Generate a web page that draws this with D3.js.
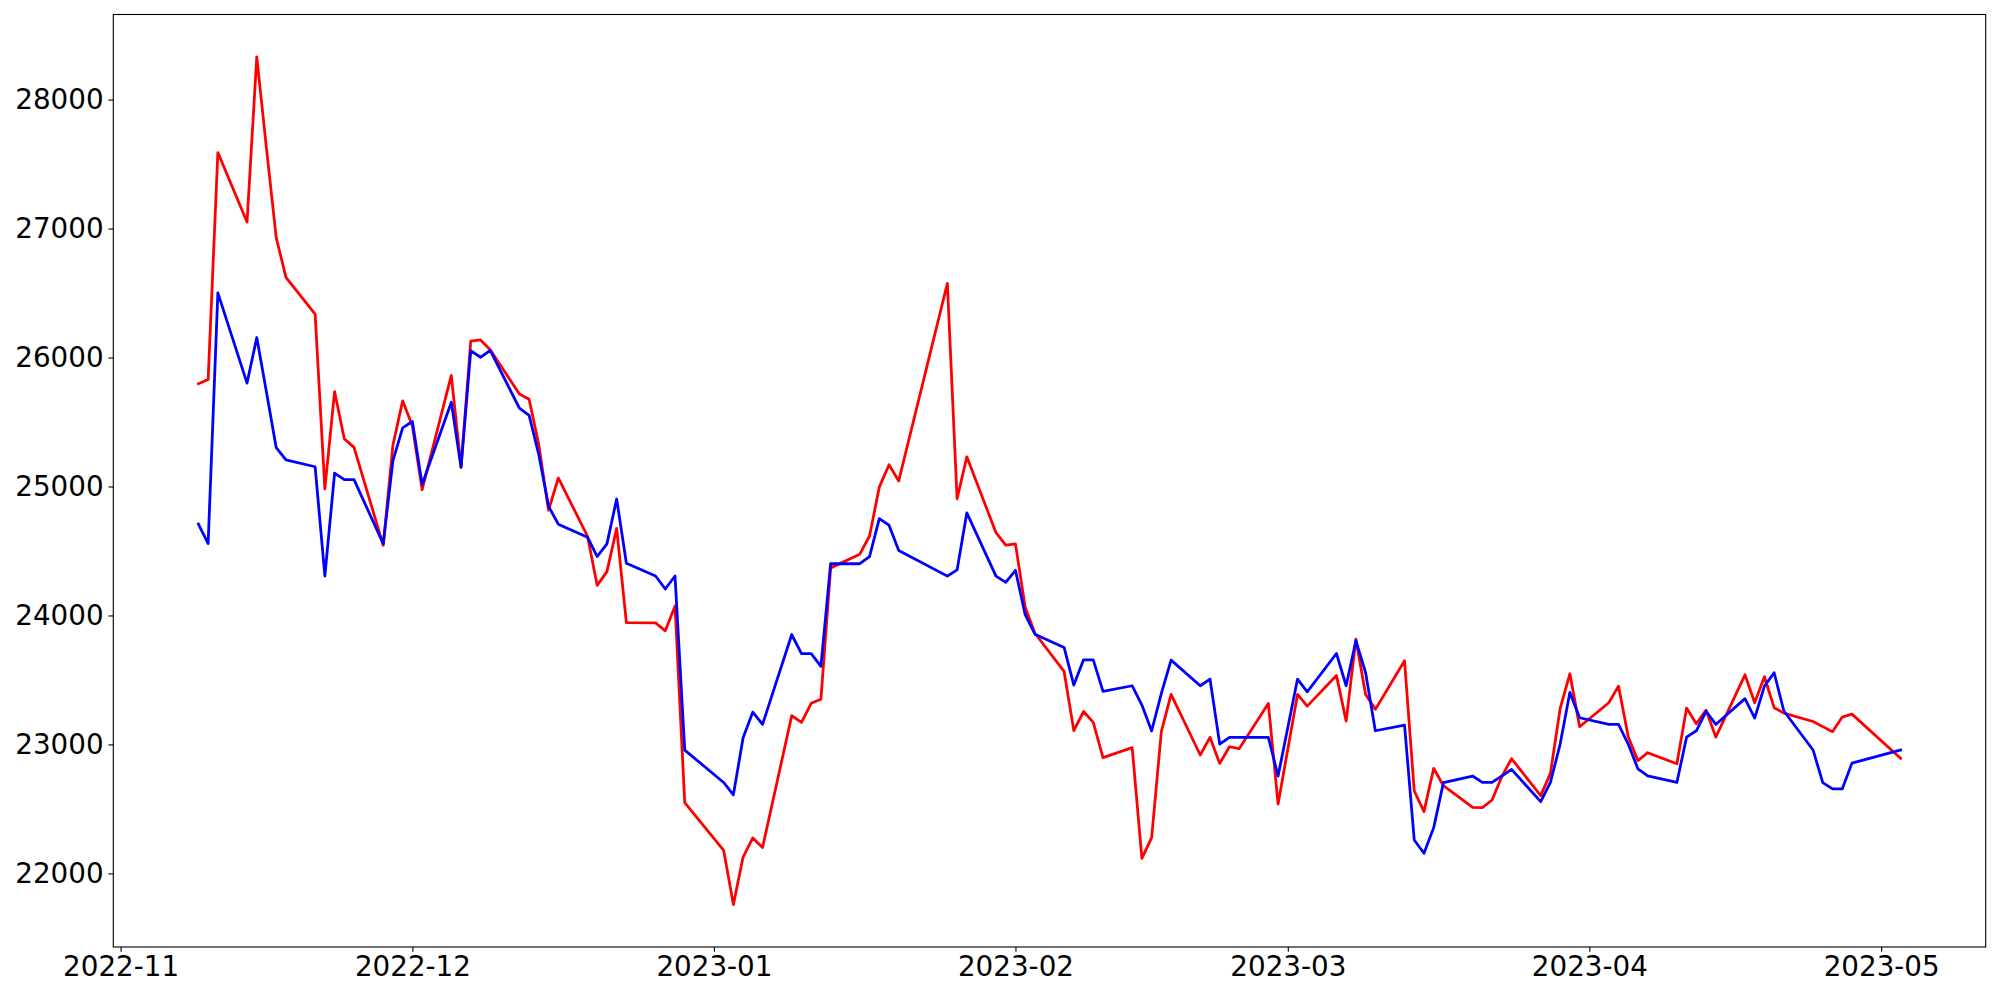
<!DOCTYPE html>
<html>
<head>
<meta charset="utf-8">
<script src="https://cdn.jsdelivr.net/npm/d3@7"></script>
<style>
html,body{margin:0;padding:0;background:#fff;}
svg{display:block;}
</style>
</head>
<body>
<svg id="chart" width="2000" height="1000"></svg>
<script>
const dates = [
  "2022-11-09","2022-11-10","2022-11-11","2022-11-14","2022-11-15","2022-11-16","2022-11-17","2022-11-18",
  "2022-11-21","2022-11-22","2022-11-23","2022-11-24","2022-11-25","2022-11-28","2022-11-29","2022-11-30",
  "2022-12-01","2022-12-02","2022-12-05","2022-12-06","2022-12-07","2022-12-08","2022-12-09","2022-12-12",
  "2022-12-13","2022-12-14","2022-12-15","2022-12-16","2022-12-19","2022-12-20","2022-12-21","2022-12-22",
  "2022-12-23","2022-12-26","2022-12-27","2022-12-28","2022-12-29",
  "2023-01-02","2023-01-03","2023-01-04","2023-01-05","2023-01-06","2023-01-09","2023-01-10","2023-01-11",
  "2023-01-12","2023-01-13","2023-01-16","2023-01-17","2023-01-18","2023-01-19","2023-01-20","2023-01-25",
  "2023-01-26","2023-01-27","2023-01-30","2023-01-31",
  "2023-02-01","2023-02-02","2023-02-03","2023-02-06","2023-02-07","2023-02-08","2023-02-09","2023-02-10",
  "2023-02-13","2023-02-14","2023-02-15","2023-02-16","2023-02-17","2023-02-20","2023-02-21","2023-02-22",
  "2023-02-23","2023-02-24","2023-02-27","2023-02-28",
  "2023-03-02","2023-03-03","2023-03-06","2023-03-07","2023-03-08","2023-03-09","2023-03-10","2023-03-13",
  "2023-03-14","2023-03-15","2023-03-16","2023-03-17","2023-03-20","2023-03-21","2023-03-22","2023-03-23",
  "2023-03-24","2023-03-27","2023-03-28","2023-03-29","2023-03-30","2023-03-31",
  "2023-04-03","2023-04-04","2023-04-05","2023-04-06","2023-04-07","2023-04-10","2023-04-11","2023-04-12",
  "2023-04-13","2023-04-14","2023-04-17","2023-04-18","2023-04-19","2023-04-20","2023-04-21","2023-04-24",
  "2023-04-25","2023-04-26","2023-04-27","2023-04-28",
  "2023-05-03"
];

const redValues = [
  25797, 25829, 27589, 27051, 28331, 27620, 26930, 26621, 26336, 24981, 25736, 25370, 25303, 24543, 25322, 25664,
  25469, 24975, 25861, 25149, 26128, 26136, 26061, 25717, 25677, 25321, 24816, 25066, 24616, 24233, 24340, 24675,
  23945, 23942, 23881, 24073, 22548,
  22179, 21758, 22127, 22275, 22201, 23223, 23171, 23319, 23351, 24369, 24475, 24616, 24995, 25169, 25043, 26575,
  24905, 25230, 24642, 24546,
  24555, 24064, 23862, 23566, 23107, 23255, 23171, 22898, 22975, 22117, 22278, 23099, 23388, 22918, 23055, 22853,
  22982, 22967, 23318, 22538,
  23388, 23297, 23535, 23181, 23816, 23388, 23272, 23649, 22639, 22479, 22815, 22680, 22512, 22510, 22569, 22750,
  22890, 22603, 22776, 23279, 23548, 23137,
  23323, 23452, 23060, 22874, 22936, 22850, 23282, 23160, 23266, 23057, 23540, 23323, 23525, 23285, 23243, 23178,
  23138, 23099, 23212, 23235,
  22892
];

const blueValues = [
  24709, 24557, 26501, 25802, 26155, 25730, 25301, 25206, 25153, 24306, 25103, 25053, 25053, 24556, 25200, 25455,
  25504, 25015, 25653, 25150, 26053, 26002, 26056, 25607, 25552, 25244, 24846, 24708, 24607, 24457, 24555, 24903,
  24405, 24306, 24205, 24306, 22956,
  22705, 22609, 23052, 23251, 23155, 23852, 23704, 23704, 23605, 24401, 24401, 24456, 24751, 24700, 24504, 24305,
  24353, 24796, 24305, 24257,
  24350, 24006, 23855, 23752, 23460, 23656, 23656, 23412, 23455, 23305, 23104, 23396, 23654, 23455, 23507, 23003,
  23055, 23055, 23055, 22755,
  23507, 23408, 23705, 23455, 23804, 23556, 23106, 23150, 22259, 22156, 22355, 22704, 22755, 22706, 22706, 22755,
  22807, 22556, 22706, 23003, 23403, 23207,
  23155, 23155, 23003, 22810, 22756, 22705, 23057, 23106, 23257, 23155, 23355, 23204, 23452, 23556, 23259, 22957,
  22704, 22655, 22655, 22855,
  22957
];

const yTickValues = [22000, 23000, 24000, 25000, 26000, 27000, 28000];
const seriesColors = ["#ff0000", "#0000ff"];

(function () {
  // layout
  const W = 2000, H = 1000;
  const axLeft = 113.3, axRight = 1985.7, axTop = 14.5, axBottom = 947;
  const PT = 100 / 72;
  const fontSize = 20 * PT;
  const tickLen = 3.5 * PT;

  const parse = d3.utcParse("%Y-%m-%d");
  const xs = dates.map(parse);

  const xExt = d3.extent(xs);
  const xSpan = xExt[1] - xExt[0];
  const x = d3.scaleUtc()
    .domain([new Date(+xExt[0] - 0.05 * xSpan), new Date(+xExt[1] + 0.05 * xSpan)])
    .range([axLeft, axRight]);

  const allVals = redValues.concat(blueValues);
  const yExt = d3.extent(allVals);
  const ySpan = yExt[1] - yExt[0];
  const y = d3.scaleLinear()
    .domain([yExt[0] - 0.05 * ySpan, yExt[1] + 0.05 * ySpan])
    .range([axBottom, axTop]);

  const svg = d3.select("#chart");
  svg.append("rect").attr("x", 0).attr("y", 0).attr("width", W).attr("height", H).attr("fill", "#fff");

  svg.append("defs").append("clipPath").attr("id", "clip")
    .append("rect").attr("x", axLeft).attr("y", axTop)
    .attr("width", axRight - axLeft).attr("height", axBottom - axTop);

  const g = svg.append("g");

  const line = d3.line()
    .x((d, i) => x(xs[i]))
    .y(d => y(d));

  [redValues, blueValues].forEach((vals, k) => {
    g.append("path")
      .datum(vals)
      .attr("clip-path", "url(#clip)")
      .attr("fill", "none")
      .attr("stroke", seriesColors[k])
      .attr("stroke-width", 2 * PT)
      .attr("stroke-linejoin", "round")
      .attr("stroke-linecap", "square")
      .attr("d", line);
  });

  // axes
  const xAxis = d3.axisBottom(x)
    .ticks(d3.utcMonth.every(1))
    .tickFormat(d3.utcFormat("%Y-%m"))
    .tickSize(tickLen)
    .tickPadding(tickLen);

  const yAxis = d3.axisLeft(y)
    .tickValues(yTickValues)
    .tickFormat(d3.format("d"))
    .tickSize(tickLen)
    .tickPadding(tickLen);

  const gx = svg.append("g").attr("transform", `translate(0,${axBottom})`).call(xAxis);
  const gy = svg.append("g").attr("transform", `translate(${axLeft},0)`).call(yAxis);

  [gx, gy].forEach(a => {
    a.select(".domain").remove();
    a.selectAll(".tick line").attr("stroke", "#000").attr("stroke-width", 0.8 * PT);
    a.selectAll(".tick text")
      .attr("fill", "#000")
      .style("font-family", "'DejaVu Sans', sans-serif")
      .style("font-size", fontSize + "px");
  });

  // frame
  svg.append("rect")
    .attr("x", axLeft).attr("y", axTop)
    .attr("width", axRight - axLeft).attr("height", axBottom - axTop)
    .attr("fill", "none")
    .attr("stroke", "#000")
    .attr("stroke-width", 0.8 * PT);
})();
</script>
</body>
</html>
